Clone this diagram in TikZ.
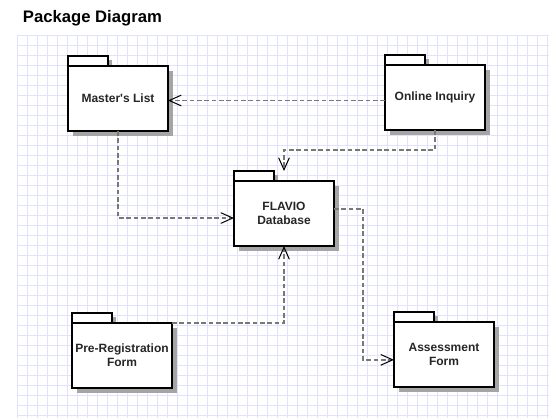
\documentclass[tikz,border=0pt]{standalone}
\usepackage{fontspec}
\setmainfont{Liberation Sans}
\usetikzlibrary{arrows.meta,shadows}

\definecolor{gridline}{RGB}{226,226,252}
\definecolor{depgray}{RGB}{120,120,120}
\definecolor{shadowgray}{RGB}{165,165,165}

\tikzset{every picture/.style={line width=0.75pt}}
\tikzset{
    pkgtab/.style={draw, line width=1.5pt, fill=white, outer sep=0pt, inner sep=0pt,
        minimum width=30pt, minimum height=7.5pt, anchor=north west,
        general shadow={fill=shadowgray, shadow xshift=3pt, shadow yshift=-3pt}},
    pkgbox/.style={draw, line width=1.5pt, fill=white, outer sep=0pt, inner sep=0pt,
        minimum width=75pt, minimum height=48.75pt, anchor=north west, align=center,
        text=black!85, font=\bfseries\fontsize{9}{10.5}\selectfont,
        general shadow={fill=shadowgray, shadow xshift=3.5pt, shadow yshift=-3.5pt}},
    dep/.style={draw=depgray, line width=1.3pt, dash pattern=on 3.5pt off 2pt,
        -{Straight Barb[length=9pt,width=8pt,line width=0.75pt,color=black]}}
}

\begin{document}
\begin{tikzpicture}[x=0.75pt,y=0.75pt,yscale=-1,xscale=1]
        \useasboundingbox (0,0) rectangle (549,418);

        % Grid
        \draw [gridline, line width=0.6pt, shift={(17,35)}] (0,0) grid [step=10] (532,383);

        % Title
        \node [anchor=base west, font=\bfseries\fontsize{12.5}{15}\selectfont] (title) at (18,22) {Package Diagram};

        % Packages: tab first, then body
        \node [pkgtab] (mltab) at (68,56) {};
        \node [pkgbox] (ml) at (mltab.south west) {Master\textquotesingle s List};

        \node [pkgtab] (oitab) at (385,55) {};
        \node [pkgbox] (oi) at (oitab.south west) {Online Inquiry};

        \node [pkgtab] (fltab) at (234,171) {};
        \node [pkgbox] (fl) at (fltab.south west) {FLAVIO\\Database};

        \node [pkgtab] (prtab) at (72,313) {};
        \node [pkgbox] (pr) at (prtab.south west) {Pre-Registration\\Form};

        \node [pkgtab] (aftab) at (394,312) {};
        \node [pkgbox] (af) at (aftab.south west) {Assessment\\Form};

        % Dependencies
        \draw [dep] ([yshift=2.25pt]oi.west) -- ([yshift=2.25pt]oi.west -| ml.east);
        \draw [dep] (oi.south) -- ++(0,20) -| (fl.north |- fltab.north);
        \draw [dep] (ml.south) |- ([yshift=3.4pt]fl.west);
        \draw [dep] (pr.north east) -| (fl.south);
        \draw [dep] ([yshift=-3.4pt]fl.east) -- ++(29,0) |- ([yshift=4pt]af.west);

\end{tikzpicture}
\end{document}
